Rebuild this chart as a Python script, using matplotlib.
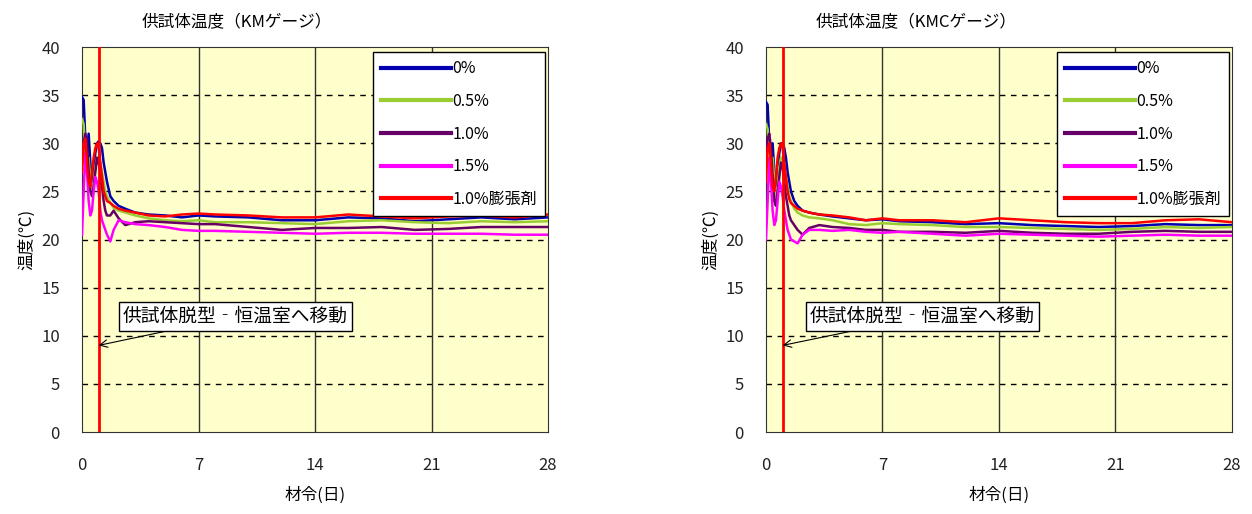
import matplotlib
matplotlib.use("Agg")
import matplotlib.pyplot as plt

plt.rcParams['font.family'] = ['Noto Sans CJK JP', 'DejaVu Sans']

# sampling times (days)
days = [0, 0.1, 0.2, 0.3, 0.4, 0.5, 0.6, 0.7, 0.8, 0.9, 1.0, 1.1, 1.2, 1.3, 1.4, 1.5,
        1.7, 1.9, 2.2, 2.6, 3.2, 4, 5, 6, 7, 8, 10, 12, 14, 16, 18, 20, 22, 24, 26, 28]

labels = ["0%", "0.5%", "1.0%", "1.5%", "1.0%膨張剤"]
colors = ["#0000B0", "#9ACD32", "#660066", "#FF00FF", "#FF0000"]

# KM gauge
km_0 = [34.8, 34.5, 30.5, 29, 31, 28, 26, 27, 29, 30, 30.2, 30, 29.5, 28, 27, 26,
        24.5, 24, 23.5, 23.2, 22.8, 22.6, 22.5, 22.3, 22.5, 22.4, 22.3, 22.0, 22.0, 22.3, 22.2, 21.9, 22.1, 22.3, 22.1, 22.3]
km_05 = [32.5, 32, 29, 27, 28.5, 26, 25, 26, 27.5, 28.5, 28.5, 28, 27, 26, 25, 24.5,
         23.8, 23.3, 23, 22.8, 22.5, 22.2, 22.0, 21.9, 22.0, 21.8, 21.8, 21.7, 21.6, 21.9, 22.0, 21.8, 21.7, 21.9, 21.8, 21.9]
km_10 = [28, 30, 31, 30, 27, 25, 24.5, 25.5, 27, 28.5, 28, 27, 25.5, 24, 23, 22.5,
         22.5, 23, 22.2, 21.5, 21.8, 21.9, 21.8, 21.7, 21.6, 21.6, 21.3, 21.0, 21.2, 21.2, 21.3, 21.0, 21.1, 21.3, 21.3, 21.3]
km_15 = [20.5, 25, 29, 27, 24, 22.5, 23, 25, 26.5, 26, 25, 23, 22, 21.5, 21, 20.5,
         19.8, 21, 22, 21.8, 21.6, 21.5, 21.3, 21.0, 20.9, 20.9, 20.8, 20.7, 20.6, 20.7, 20.7, 20.6, 20.6, 20.6, 20.5, 20.5]
km_10e = [27, 30, 30.5, 28, 26, 25.5, 27, 28.5, 29.5, 30, 29.5, 28, 26.5, 25, 24.5, 24,
          23.8, 23.5, 23.2, 23.0, 22.8, 22.5, 22.4, 22.6, 22.7, 22.6, 22.5, 22.3, 22.3, 22.6, 22.4, 22.2, 22.4, 22.5, 22.3, 22.6]

# KMC gauge
kmc_0 = [34.3, 34, 30, 28.5, 30, 27, 25.5, 27, 29, 30, 30, 29.5, 28.5, 27, 26, 25,
         24, 23.5, 23, 22.8, 22.6, 22.4, 22.2, 22.0, 22.1, 21.9, 21.8, 21.6, 21.7, 21.5, 21.4, 21.3, 21.4, 21.6, 21.5, 21.5]
kmc_05 = [32, 31.5, 29, 27, 28.5, 26, 24.5, 25.5, 27.5, 28.5, 28.5, 27.5, 26.5, 25.5, 24.5, 24,
          23.2, 22.8, 22.5, 22.3, 22.2, 22.0, 21.6, 21.5, 21.7, 21.6, 21.5, 21.3, 21.3, 21.2, 21.1, 21.0, 21.1, 21.3, 21.2, 21.3]
kmc_10 = [29, 30.5, 31, 29.5, 26.5, 24, 23.5, 25, 26.5, 28, 27.5, 26, 24.5, 23.5, 22.5, 22,
          21.5, 21, 20.5, 21.2, 21.5, 21.3, 21.2, 21.0, 21.0, 20.8, 20.8, 20.7, 20.9, 20.7, 20.6, 20.6, 20.8, 20.9, 20.8, 20.8]
kmc_15 = [20, 24, 28.5, 26, 23, 21.5, 22, 24, 26, 25.5, 24.5, 23, 22, 21, 20.5, 20,
          19.8, 19.6, 20.5, 21, 21.0, 20.9, 21.0, 20.8, 20.7, 20.8, 20.6, 20.4, 20.6, 20.5, 20.4, 20.3, 20.4, 20.5, 20.4, 20.4]
kmc_10e = [26, 29.5, 30, 28, 25.5, 25, 26.5, 28.5, 29.5, 30, 29.5, 28, 26.5, 25, 24.2, 23.8,
           23.5, 23.2, 23.0, 22.8, 22.6, 22.5, 22.3, 22.0, 22.2, 22.0, 22.0, 21.8, 22.2, 22.0, 21.8, 21.7, 21.7, 22.0, 22.1, 21.8]

charts = [
    ("供試体温度（KMゲージ）", [km_0, km_05, km_10, km_15, km_10e], 0.0655, 2.46, 237),
    ("供試体温度（KMCゲージ）", [kmc_0, kmc_05, kmc_10, kmc_15, kmc_10e], 0.6118, 2.64, 916),
]

fig = plt.figure(figsize=(12.52, 5.14), dpi=100)

for title, series, left, note_x, title_x in charts:
    ax = fig.add_axes([left, 0.1595, 0.3722, 0.749])
    ax.set_facecolor("#FFFFCC")
    for vals, lab, col in zip(series, labels, colors):
        ax.plot(days, vals, color=col, lw=1.8, label=lab, zorder=3)

    # demoulding marker
    ax.axvline(1, color="#FF0000", lw=2, zorder=4)

    ax.set_xlim(0, 28)
    ax.set_ylim(0, 40)
    ax.set_xticks([0, 7, 14, 21, 28])
    ax.set_yticks(range(0, 41, 5))
    for y in range(5, 40, 5):
        ax.axhline(y, color="black", lw=1, ls=(0, (4, 4)), zorder=1)
    for x in [7, 14, 21]:
        ax.axvline(x, color="#333333", lw=1, zorder=1)
    for s in ax.spines.values():
        s.set_color("#333333")
    ax.tick_params(length=0, labelsize=12, colors="#222222")
    ax.tick_params(axis="x", pad=18)
    ax.tick_params(axis="y", pad=16)
    ax.set_ylabel("温度(℃)", fontsize=12, labelpad=4)

    leg = ax.legend(loc="upper right", bbox_to_anchor=(0.994, 0.986), fontsize=11.5,
                    handlelength=4.4, handletextpad=0.1, labelspacing=0.98,
                    fancybox=False, framealpha=1, borderpad=0.5, borderaxespad=0)
    leg.get_frame().set_edgecolor("black")
    leg.get_frame().set_linewidth(1)
    for h in leg.get_lines():
        h.set_linewidth(3)

    ax.annotate("供試体脱型‐恒温室へ移動", xy=(1, 9), xytext=(note_x, 12), fontsize=13.5,
                va="center", ha="left",
                bbox=dict(boxstyle="square,pad=0.2", fc="white", ec="black", lw=1),
                arrowprops=dict(arrowstyle="->", color="black", lw=0.8,
                                shrinkA=0, shrinkB=0), zorder=5)

    fig.text(title_x / 1252, 1 - 23 / 514, title, ha="center", va="center", fontsize=12)
    fig.text((left + 0.1861), 1 - 495 / 514, "材令(日)", ha="center", va="center", fontsize=12)

fig.savefig("out.png", dpi=100)
